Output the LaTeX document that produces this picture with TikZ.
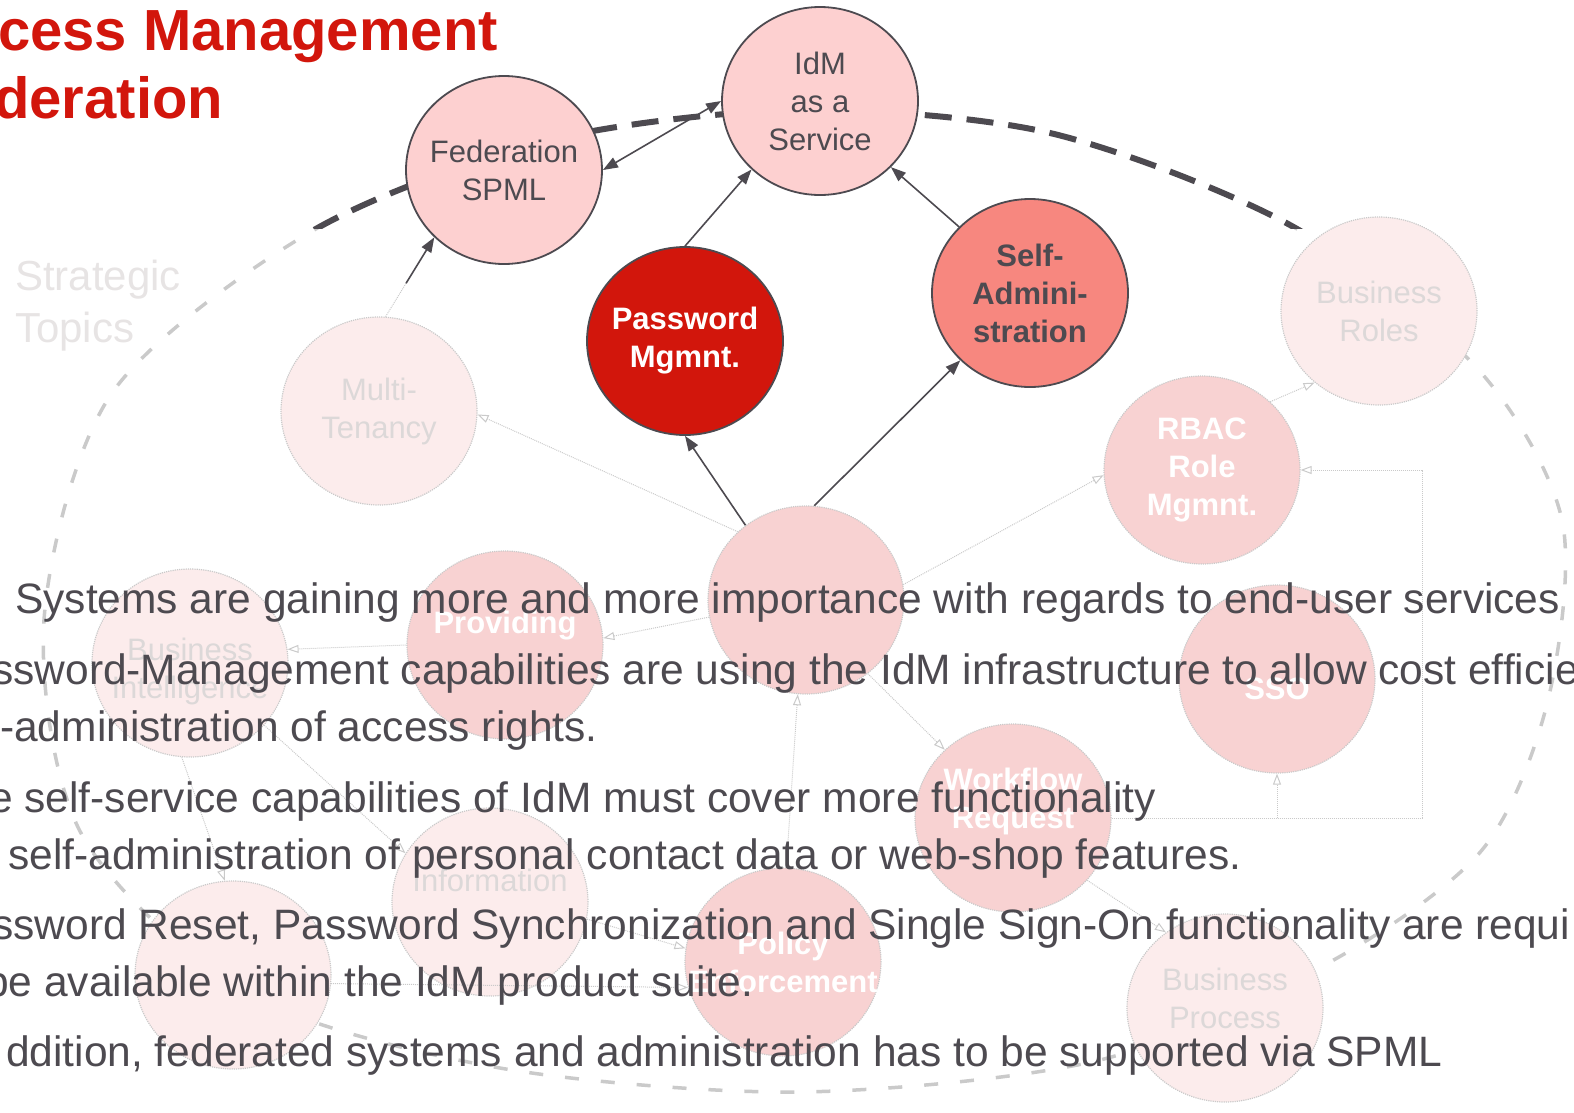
\documentclass[tikz,border=0pt]{standalone}
\usepackage{fontspec}
\setmainfont{Liberation Sans}
\usetikzlibrary{shapes.geometric,arrows.meta,calc}

\definecolor{slidered}{HTML}{D2160C}
\definecolor{slidegrey}{HTML}{4D4A50}
\definecolor{palepink}{HTML}{FDD0D0}
\definecolor{salmon}{HTML}{F7877F}
\definecolor{fadepink}{HTML}{F8D2D2}
\definecolor{fadelight}{HTML}{FCECEC}
\definecolor{fadeline}{HTML}{CACACA}
\definecolor{fadetext}{HTML}{DCD8D8}

% the rim of the strategic topics
\newcommand\rimpath{plot[smooth cycle] coordinates {(800,110) (1050,133) (1290,225) (1476,367)
  (1562,520) (1548,700) (1482,850) (1330,962) (1100,1060) (800,1092) (500,1068) (250,995)
  (82,835) (44,620) (112,393) (314,230) (550,140)}}

\begin{document}
\begin{tikzpicture}[x=1pt, y=-1pt,
    topic/.style={ellipse, draw=slidegrey, line width=1.8pt, minimum width=196pt, minimum height=188pt, inner sep=0pt},
    topictext/.style={align=center, inner sep=0pt, text=slidegrey, font=\fontsize{31}{38}\selectfont},
    ghost/.style={ellipse, draw=fadeline, densely dotted, line width=1.2pt, fill=fadelight, minimum width=196pt, minimum height=188pt, inner sep=0pt},
    ghostred/.style={ghost, fill=fadepink},
    ghosttext/.style={align=center, inner sep=0pt, text=fadetext, font=\fontsize{31}{38}\selectfont},
    ghostwhite/.style={ghosttext, text=white, font=\bfseries\fontsize{31}{38}\selectfont},
    link/.style={line width=1.6pt, draw=slidegrey, -{Triangle[length=15pt,width=11pt]}},
    fadelink/.style={line width=1pt, draw=fadeline, densely dotted, -{Triangle[length=11pt,width=8pt,open]}},
    bullet/.style={anchor=base west, inner sep=0pt, text=slidegrey, font=\fontsize{42.5}{50}\selectfont},
  ]
  \path[use as bounding box] (0,0) rectangle (1574,1112);
  \clip (0,0) rectangle (1574,1112);

  % faded rim
  \begin{scope}
    \clip (0,228) rectangle (1574,1112);
    \draw[fadeline, line width=3.5pt, dash pattern=on 14pt off 22pt] \rimpath;
  \end{scope}

  % faded topics
  \node[ghost, label={[ghosttext]center:Multi-\\Tenancy}] (mt) at (379,411) {};
  \node[ghost, label={[ghosttext]center:Business\\Roles}] (br) at (1379,311) {};
  \node[ghostred, label={[ghostwhite]center:RBAC\\Role\\Mgmnt.}] (rbac) at (1202,470) {};
  \node[ghostred] (ctr) at (806,600) {};
  \node[ghostred, label={[ghostwhite, yshift=19pt]center:Providing}] (prov) at (505,645) {};
  \node[ghost, label={[ghosttext, yshift=-8pt]center:Business\\Intelligence}] (bi) at (190,663) {};
  \node[ghostred, label={[ghostwhite, yshift=-10pt]center:SSO}] (sso) at (1277,679) {};
  \node[ghostred, label={[ghostwhite, yshift=17pt]center:Workflow\\Request}] (wf) at (1013,818) {};
  \node[ghost, label={[ghosttext, yshift=22pt]center:Information}] (info) at (490,902) {};
  \node[ghostred, label={[ghostwhite]center:Policy\\Enforcement}] (pol) at (783,962) {};
  \node[ghost, label={[ghosttext, yshift=10pt]center:Business\\Process}] (bp) at (1225,1008) {};
  \node[ghost] (bl) at (233,975) {};
  \node[anchor=west, align=left, inner sep=0pt, text=fadetext!70!white, font=\fontsize{42}{52}\selectfont] (strat) at (15,306) {Strategic\\Topics};

  % faded links
  \draw[fadelink] (ctr.135) -- (mt.358);
  \draw[fadelink] (ctr.9) -- (rbac.183);
  \draw[fadelink] (rbac.45) -- (br.228);
  \draw[fadelink] (wf.east) -- (1422,818) |- (rbac.east);
  \draw[fadelink] (sso.south |- wf.east) -- (sso.south);
  \draw[fadelink] (ctr.190) -- (prov.4);
  \draw[fadelink] (ctr.310) -- (wf.135);
  \draw[fadelink] (pol.88) -- (ctr.265);
  \draw[fadelink] (prov.180) -- (bi.8);
  \draw[fadelink] (wf.320) -- (bp.128);
  \draw[fadelink] (bi.265) -- (bl.95);
  \draw[fadelink] (bi.320) -- (info.150);
  \draw[fadelink] (info.350) -- (pol.172);
  \draw[fadelink] (bl.355) -- (pol.195);

  % dark part of the rim
  \begin{scope}
    \clip (0,0) rectangle (1574,228);
    \draw[slidegrey, line width=6pt, dash pattern=on 27pt off 15pt] \rimpath;
  \end{scope}

  % topics in focus
  \node[topic, fill=palepink, label={[topictext]center:Federation\\SPML}] (fed) at (504,170) {};
  \node[topic, fill=palepink, label={[topictext]center:IdM\\as a\\Service}] (idm) at (820,101) {};
  \node[topic, fill=slidered, label={[topictext, text=white, font=\bfseries\fontsize{31}{38}\selectfont]center:Password\\Mgmnt.}] (pw) at (685,341) {};
  \node[topic, fill=salmon, label={[topictext, font=\bfseries\fontsize{31}{38}\selectfont]center:Self-\\Admini-\\stration}] (self) at (1030,293) {};

  % links
  \coordinate (mtmid) at ($(mt.86)!0.42!(fed.224)$);
  \draw[line width=1pt, fadeline, densely dotted] (mt.86) -- (mtmid);
  \draw[link] (mtmid) -- (fed.224);
  \draw[link, {Triangle[length=15pt,width=11pt]}-{Triangle[length=15pt,width=11pt]}] (fed.east) -- (idm.west);
  \draw[link] (pw.north) -- (idm.225);
  \draw[link] (self.137) -- (idm.317);
  \draw[link] (ctr.129) -- (pw.south);
  \draw[link] (ctr.85) -- (self.224);

  % bullet text
  \node[bullet] (l1) at (15,613) {Systems are gaining more and more importance with regards to end-user services};
  \node[bullet] (l2) at (-8,684) {ssword-Management capabilities are using the IdM infrastructure to allow cost efficie};
  \node[bullet] (l3) at (0,741) {-administration of access rights.};
  \node[bullet] (l4) at (-11,812) {e self-service capabilities of IdM must cover more functionality};
  \node[bullet] (l5) at (8,869) {self-administration of personal contact data or web-shop features.};
  \node[bullet] (l6) at (-8,939) {ssword Reset, Password Synchronization and Single Sign-On functionality are requi};
  \node[bullet] (l7) at (-15,996) {be available within the IdM product suite.};
  \node[bullet] (l8) at (6,1066) {ddition, federated systems and administration has to be supported via SPML};

  % title
  \node[anchor=base west, inner sep=0pt, text=slidered, font=\bfseries\fontsize{58}{68}\selectfont] (t1) at (-2,50) {cess Management};
  \node[anchor=base west, inner sep=0pt, text=slidered, font=\bfseries\fontsize{58}{68}\selectfont] (t2) at (-6,118) {deration};
\end{tikzpicture}
\end{document}
